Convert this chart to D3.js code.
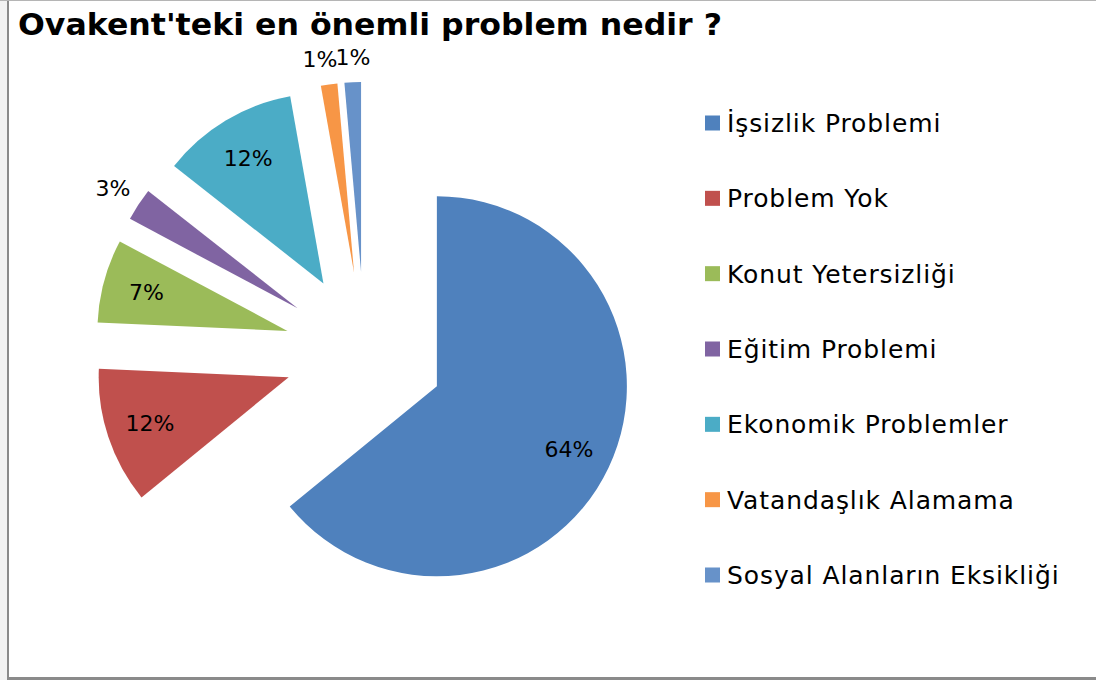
<!DOCTYPE html>
<html>
<head>
<meta charset="utf-8">
<script src="https://cdn.jsdelivr.net/npm/d3@7"></script>
<style>
  body { margin: 0; background: #fff; }
  svg { display: block; font-family: Verdana, "DejaVu Sans", sans-serif; }
</style>
</head>
<body>
<div class="chart"></div>
<script>
const width = 1096
const height = 680

// data
const categories = ['İşsizlik Problemi', 'Problem Yok', 'Konut Yetersizliği', 'Eğitim Problemi',
                    'Ekonomik Problemler', 'Vatandaşlık Alamama', 'Sosyal Alanların Eksikliği']
const values = [64.1, 11.6, 7.1, 2.8, 11.6, 1.4, 1.4]
const colors = ['#4F81BD', '#C0504D', '#9BBB59', '#8064A2', '#4BACC6', '#F79646', '#6792C9']
const title = "Ovakent'teki en önemli problem nedir ?"

const svg = d3.select('.chart')
    .append('svg')
        .attr('width', width)
        .attr('height', height)

// frame
svg.append('rect').attr('x', 0).attr('y', 0).attr('width', 7).attr('height', height).attr('fill', '#f2f2f2')
svg.append('line').attr('x1', 0).attr('x2', width).attr('y1', 0.5).attr('y2', 0.5)
    .attr('stroke', '#b5b5b5').attr('stroke-width', 1)
svg.append('line').attr('x1', 8).attr('x2', 8).attr('y1', 1).attr('y2', 678)
    .attr('stroke', '#8a8a8a').attr('stroke-width', 2)
svg.append('line').attr('x1', 7).attr('x2', width).attr('y1', 678.5).attr('y2', 678.5)
    .attr('stroke', '#8a8a8a').attr('stroke-width', 3)

svg.append('text')
    .attr('x', 18).attr('y', 35)
    .attr('font-size', 30).attr('font-weight', 'bold')
    .attr('textLength', 704).attr('lengthAdjust', 'spacingAndGlyphs')
    .attr('fill', '#000')
    .text(title)

// pie
const cx = 364.6, cy = 352
const radius = 190
const explode = 80

const total = d3.sum(values)
const pie = d3.pie().sort(null).value(d => d)
const arcs = pie(values)
const arcGen = d3.arc().innerRadius(0).outerRadius(radius)

const mid = d => (d.startAngle + d.endAngle) / 2
const dir = d => [Math.sin(mid(d)), -Math.cos(mid(d))]

const g = svg.append('g').attr('transform', `translate(${cx},${cy})`)

g.selectAll('path')
    .data(arcs)
    .join('path')
        .attr('d', arcGen)
        .attr('fill', (d, i) => colors[i])
        .attr('transform', d => {
            const [ux, uy] = dir(d)
            return `translate(${ux * explode},${uy * explode})`
        })

// labels
const labels = arcs.map((d, i) => {
    const pct = d.value / total * 100
    const outside = pct < 5
    const rr = explode + radius * (outside ? 1.16 : 0.77)
    const [ux, uy] = dir(d)
    return { text: Math.round(pct) + '%', x: ux * rr, y: uy * rr, outside }
})
// push overlapping outside labels apart (to the left)
for (let i = labels.length - 1; i > 0; i--) {
    const a = labels[i - 1], b = labels[i]
    if (a.outside && b.outside && Math.abs(a.y - b.y) < 20 && b.x - a.x < 33) {
        const shift = 33 - (b.x - a.x)
        a.x -= shift * 0.75
        b.x += shift * 0.25
        a.y += 5
        b.y += 5
    }
}

g.selectAll('text')
    .data(labels)
    .join('text')
        .attr('x', d => d.x)
        .attr('y', d => d.y)
        .attr('dy', '0.35em')
        .attr('text-anchor', 'middle')
        .attr('font-size', 22)
        .attr('fill', '#000')
        .text(d => d.text)

// legend
const legendY = d3.scalePoint()
    .domain(categories)
    .range([123, 575])

const legend = svg.append('g')
    .selectAll('g')
    .data(categories)
    .join('g')
        .attr('transform', d => `translate(705,${legendY(d)})`)

legend.append('rect')
    .attr('x', 0).attr('y', -7.5)
    .attr('width', 15).attr('height', 15)
    .attr('fill', (d, i) => colors[i])

legend.append('text')
    .attr('x', 22).attr('y', 0)
    .attr('dy', '0.36em')
    .attr('font-size', 25)
    .attr('letter-spacing', 0.9)
    .attr('fill', '#000')
    .text(d => d)
</script>
</body>
</html>
